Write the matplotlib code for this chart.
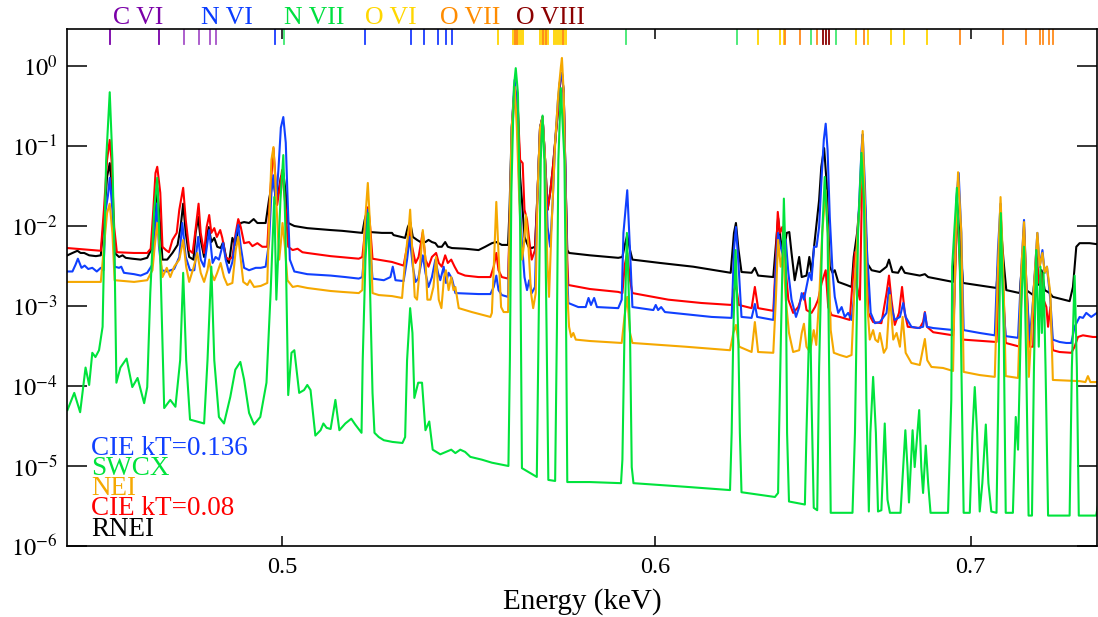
import numpy as np
import matplotlib.pyplot as plt
from matplotlib.ticker import FixedLocator, FixedFormatter, NullLocator

plt.rcParams['font.family'] = 'Liberation Serif'
plt.rcParams['mathtext.fontset'] = 'stix'

# model spectra, (energy in keV, flux) pairs
rnei = [
    (0.4501, 4.3e-3), (0.4512, 4.6e-3), (0.4523, 4.9e-3), (0.4530, 4.6e-3), (0.4538, 4.6e-3),
    (0.4549, 4.3e-3), (0.4564, 4.2e-3), (0.4575, 4.3e-3), (0.4582, 1.19e-2), (0.4589, 4.1e-2),
    (0.4595, 6.1e-2), (0.4601, 2.6e-2), (0.4606, 4.6e-3), (0.4616, 4.1e-3), (0.4624, 4.3e-3),
    (0.4631, 4.0e-3), (0.4646, 3.9e-3), (0.4665, 3.8e-3), (0.4680, 4.0e-3), (0.4692, 5.5e-3),
    (0.4698, 1.6e-2), (0.4703, 3.0e-2), (0.4710, 9.7e-3), (0.4715, 3.8e-3), (0.4726, 3.8e-3),
    (0.4738, 4.6e-3), (0.4750, 5.8e-3), (0.4757, 9.7e-3), (0.4763, 1.9e-2), (0.4769, 8.2e-3),
    (0.4777, 4.1e-3), (0.4787, 3.8e-3), (0.4792, 8.2e-3), (0.4798, 1.3e-2), (0.4804, 6.7e-3),
    (0.4812, 4.1e-3), (0.4818, 7.3e-3), (0.4823, 9.7e-3), (0.4829, 6.3e-3), (0.4836, 7.1e-3),
    (0.4843, 5.5e-3), (0.4851, 5.3e-3), (0.4857, 6.3e-3), (0.4865, 3.8e-3), (0.4871, 3.45e-3),
    (0.4879, 7.1e-3), (0.4886, 5.8e-3), (0.4893, 9.4e-3), (0.4899, 1.09e-2), (0.4907, 1.12e-2),
    (0.4919, 1.09e-2), (0.4930, 1.22e-2), (0.4939, 1.09e-2), (0.4959, 1.09e-2), (0.4967, 2.1e-2),
    (0.4973, 3.1e-2), (0.4978, 3.8e-2), (0.4984, 2.1e-2), (0.4990, 2.6e-2), (0.4996, 4.1e-2),
    (0.5002, 4.6e-2), (0.5008, 2.6e-2), (0.5014, 1.09e-2), (0.5029, 1.0e-2), (0.5061, 9.4e-3),
    (0.5119, 8.9e-3), (0.5148, 8.7e-3), (0.5199, 8.2e-3), (0.5205, 1.19e-2), (0.5213, 1.68e-2),
    (0.5219, 8.4e-3), (0.5249, 8.2e-3), (0.5275, 8.2e-3), (0.5279, 7.7e-3), (0.5309, 7.1e-3),
    (0.5316, 9.7e-3), (0.5322, 1.12e-2), (0.5329, 7.3e-3), (0.5340, 6.7e-3), (0.5349, 6.3e-3),
    (0.5362, 6.3e-3), (0.5370, 6.7e-3), (0.5379, 6.3e-3), (0.5388, 6.1e-3), (0.5395, 5.5e-3),
    (0.5405, 5.5e-3), (0.5414, 6.3e-3), (0.5421, 5.5e-3), (0.5432, 5.3e-3), (0.5467, 5.2e-3),
    (0.5503, 5.0e-3), (0.5521, 5.5e-3), (0.5539, 6.1e-3), (0.5551, 6.3e-3), (0.5566, 5.8e-3),
    (0.5583, 5.8e-3), (0.5587, 1.6e-2), (0.5593, 0.17), (0.5601, 0.55), (0.5610, 0.28),
    (0.5616, 4.1e-2), (0.5621, 2.1e-2), (0.5628, 7.3e-3), (0.5639, 5.5e-3), (0.5648, 5.3e-3),
    (0.5657, 5.5e-3), (0.5664, 2.6e-2), (0.5671, 0.17), (0.5678, 0.23), (0.5685, 6.7e-2),
    (0.5692, 1.6e-2), (0.5699, 2.6e-2), (0.5706, 5.0e-2), (0.5713, 0.11), (0.5721, 0.28),
    (0.5727, 0.67), (0.5732, 0.82), (0.5737, 0.46), (0.5743, 2.6e-2), (0.5747, 5.0e-3),
    (0.5752, 4.6e-3), (0.5811, 4.3e-3), (0.5892, 4.0e-3), (0.5904, 4.1e-3), (0.5911, 5.8e-3),
    (0.5918, 7.7e-3), (0.5926, 5.0e-3), (0.5933, 3.8e-3), (0.6014, 3.45e-3), (0.6112, 3.1e-3),
    (0.6225, 2.6e-3), (0.6235, 8.2e-3), (0.6241, 1.09e-2), (0.6249, 5.0e-3), (0.6258, 2.66e-3),
    (0.6289, 2.6e-3), (0.6299, 3.0e-3), (0.6309, 2.4e-3), (0.6356, 2.3e-3), (0.6363, 5.0e-3),
    (0.6371, 1.26e-2), (0.6379, 6.7e-3), (0.6387, 4.6e-3), (0.6398, 8.2e-3), (0.6406, 8.4e-3),
    (0.6413, 4.6e-3), (0.6423, 2.1e-3), (0.6437, 4.1e-3), (0.6445, 2.3e-3), (0.6460, 2.4e-3),
    (0.6469, 4.1e-3), (0.6476, 2.6e-3), (0.6484, 5.5e-3), (0.6500, 2.1e-2), (0.6507, 5.5e-2),
    (0.6516, 9.4e-2), (0.6524, 3.45e-2), (0.6534, 3.1e-3), (0.6543, 2.6e-3), (0.6550, 2.8e-3),
    (0.6561, 2.0e-3), (0.6588, 1.83e-3), (0.6604, 1.73e-3), (0.6611, 4.1e-3), (0.6622, 8.2e-3),
    (0.6631, 2.1e-2), (0.6640, 6.7e-2), (0.6647, 2.1e-2), (0.6654, 3.45e-3), (0.6669, 2.8e-3),
    (0.6696, 2.66e-3), (0.6718, 3.1e-3), (0.6726, 3.8e-3), (0.6737, 2.66e-3), (0.6756, 2.6e-3),
    (0.6767, 3.1e-3), (0.6778, 2.6e-3), (0.6828, 2.4e-3), (0.6845, 2.5e-3), (0.6856, 2.3e-3),
    (0.6940, 2.0e-3), (0.6949, 6.7e-3), (0.6953, 2.1e-2), (0.6963, 6.7e-3), (0.6974, 1.94e-3),
    (0.7089, 1.68e-3), (0.7098, 5.0e-3), (0.7104, 1.03e-2), (0.7113, 3.8e-3), (0.7123, 1.58e-3),
    (0.7170, 1.45e-3), (0.7179, 3.8e-3), (0.7185, 7.7e-3), (0.7193, 1.58e-3), (0.7217, 1.37e-3),
    (0.7228, 3.8e-3), (0.7238, 1.83e-3), (0.7247, 2.8e-3), (0.7258, 1.58e-3), (0.7276, 1.45e-3),
    (0.7287, 1.3e-3), (0.7347, 1.15e-3), (0.7359, 1.73e-3), (0.7371, 5.5e-3), (0.7383, 6.1e-3),
    (0.7419, 6.1e-3), (0.7450, 5.9e-3),
]

cie_008 = [
    (0.4501, 5.3e-3), (0.4575, 4.9e-3), (0.4582, 1.6e-2), (0.4589, 6.7e-2), (0.4595, 0.119),
    (0.4599, 6.7e-2), (0.4605, 9.7e-3), (0.4611, 4.7e-3), (0.4650, 4.6e-3), (0.4680, 4.6e-3),
    (0.4688, 5.2e-3), (0.4694, 1.6e-2), (0.4699, 4.6e-2), (0.4703, 5.5e-2), (0.4710, 2.6e-2),
    (0.4715, 5.5e-3), (0.4723, 5.0e-3), (0.4730, 4.7e-3), (0.4738, 6.7e-3), (0.4748, 8.2e-3),
    (0.4754, 1.6e-2), (0.4763, 3.0e-2), (0.4769, 1.19e-2), (0.4777, 5.0e-3), (0.4785, 4.6e-3),
    (0.4791, 8.2e-3), (0.4799, 1.9e-2), (0.4804, 8.2e-3), (0.4812, 4.6e-3), (0.4818, 9.7e-3),
    (0.4824, 1.37e-2), (0.4829, 8.2e-3), (0.4836, 9.4e-3), (0.4842, 7.3e-3), (0.4850, 8.9e-3),
    (0.4855, 7.1e-3), (0.4863, 4.1e-3), (0.4871, 3.8e-3), (0.4879, 4.1e-3), (0.4887, 8.2e-3),
    (0.4893, 1.22e-2), (0.4899, 9.7e-3), (0.4907, 6.1e-3), (0.4919, 6.3e-3), (0.4927, 5.6e-3),
    (0.4939, 6.1e-3), (0.4951, 5.5e-3), (0.4963, 5.5e-3), (0.4970, 2.6e-2), (0.4978, 9.4e-2),
    (0.4987, 1.83e-2), (0.4999, 5.0e-2), (0.5008, 1.6e-2), (0.5014, 5.5e-3), (0.5025, 5.0e-3),
    (0.5037, 5.2e-3), (0.5049, 4.7e-3), (0.5061, 4.6e-3), (0.5119, 4.2e-3), (0.5190, 3.9e-3),
    (0.5199, 4.1e-3), (0.5207, 9.7e-3), (0.5214, 1.73e-2), (0.5219, 9.7e-3), (0.5225, 3.9e-3),
    (0.5275, 3.55e-3), (0.5305, 3.2e-3), (0.5314, 5.5e-3), (0.5321, 9.7e-3), (0.5327, 5.5e-3),
    (0.5336, 3.45e-3), (0.5344, 4.1e-3), (0.5355, 8.4e-3), (0.5362, 3.8e-3), (0.5370, 3.1e-3),
    (0.5379, 4.1e-3), (0.5390, 4.6e-3), (0.5397, 3.45e-3), (0.5405, 3.1e-3), (0.5414, 4.3e-3),
    (0.5421, 3.45e-3), (0.5430, 3.8e-3), (0.5439, 3.1e-3), (0.5448, 2.6e-3), (0.5467, 2.4e-3),
    (0.5503, 2.3e-3), (0.5535, 2.3e-3), (0.5544, 3.1e-3), (0.5551, 4.6e-3), (0.5557, 2.8e-3),
    (0.5566, 2.3e-3), (0.5583, 2.2e-3), (0.5587, 9.7e-3), (0.5593, 0.11), (0.5601, 0.55),
    (0.5610, 0.28), (0.5616, 6.7e-2), (0.5623, 6.1e-2), (0.5628, 1.6e-2), (0.5635, 1.19e-2),
    (0.5641, 6.7e-3), (0.5648, 3.8e-3), (0.5657, 5.0e-3), (0.5664, 2.6e-2), (0.5671, 0.17),
    (0.5678, 0.23), (0.5685, 6.7e-2), (0.5692, 1.6e-2), (0.5699, 2.6e-2), (0.5706, 5.0e-2),
    (0.5713, 0.11), (0.5721, 0.28), (0.5727, 0.67), (0.5732, 0.82), (0.5737, 0.46),
    (0.5743, 2.6e-2), (0.5747, 3.8e-3), (0.5750, 1.83e-3), (0.5811, 1.63e-3), (0.5892, 1.5e-3),
    (0.5904, 1.45e-3), (0.5911, 3.3e-3), (0.5918, 4.6e-3), (0.5926, 2.1e-3), (0.5933, 1.45e-3),
    (0.6038, 1.2e-3), (0.6137, 1.09e-3), (0.6228, 1.03e-3), (0.6235, 1.58e-3), (0.6241, 1.83e-3),
    (0.6250, 1.03e-3), (0.6289, 9.4e-4), (0.6299, 1.73e-3), (0.6309, 9.4e-4), (0.6356, 8.7e-4),
    (0.6363, 3.1e-3), (0.6370, 1.5e-2), (0.6376, 8.2e-3), (0.6384, 9.7e-3), (0.6392, 3.8e-3),
    (0.6403, 1.2e-3), (0.6418, 8.2e-4), (0.6434, 9.7e-4), (0.6445, 1.3e-3), (0.6452, 1.45e-3),
    (0.6460, 8.9e-4), (0.6476, 8.2e-4), (0.6487, 9.7e-4), (0.6497, 1.2e-3), (0.6508, 1.94e-3),
    (0.6521, 2.8e-3), (0.6529, 9.7e-4), (0.6540, 7.7e-4), (0.6566, 7.3e-4), (0.6598, 6.7e-4),
    (0.6607, 1.94e-3), (0.6615, 4.7e-3), (0.6622, 1.73e-3), (0.6631, 1.2e-3), (0.6640, 8.9e-2),
    (0.6647, 2.1e-2), (0.6658, 8.2e-4), (0.6674, 6.3e-4), (0.6701, 6.1e-4), (0.6718, 1.45e-3),
    (0.6726, 2.4e-3), (0.6734, 1.2e-3), (0.6745, 5.8e-4), (0.6759, 8.2e-4), (0.6769, 1.73e-3),
    (0.6778, 8.2e-4), (0.6788, 5.5e-4), (0.6828, 5.3e-4), (0.6839, 6.3e-4), (0.6845, 8.4e-4),
    (0.6852, 5.5e-4), (0.6873, 4.7e-4), (0.6940, 4.3e-4), (0.6949, 3.8e-3), (0.6953, 2.1e-2),
    (0.6963, 3.1e-3), (0.6974, 3.8e-4), (0.7089, 3.55e-4), (0.7100, 5.0e-3), (0.7104, 1.3e-2),
    (0.7114, 1.2e-3), (0.7121, 3.45e-4), (0.7170, 3.1e-4), (0.7179, 3.1e-3), (0.7185, 9.7e-3),
    (0.7193, 1.94e-3), (0.7205, 3.1e-4), (0.7217, 3.1e-4), (0.7228, 5.0e-3), (0.7238, 1.94e-3),
    (0.7246, 2.6e-3), (0.7254, 1.2e-3), (0.7264, 9.7e-4), (0.7270, 5.5e-4), (0.7278, 9.7e-4),
    (0.7287, 2.8e-4), (0.7311, 2.66e-4), (0.7353, 2.6e-4), (0.7365, 3.1e-4), (0.7377, 4.1e-4),
    (0.7395, 4.3e-4), (0.7431, 4.1e-4), (0.7450, 4.1e-4),
]

cie_0136 = [
    (0.4501, 2.7e-3), (0.4512, 2.7e-3), (0.4519, 3.3e-3), (0.4524, 3.9e-3), (0.4532, 3.0e-3),
    (0.4539, 3.2e-3), (0.4547, 2.9e-3), (0.4556, 3.0e-3), (0.4566, 2.7e-3), (0.4575, 3.0e-3),
    (0.4581, 2.8e-3), (0.4586, 1.6e-2), (0.4591, 2.4e-2), (0.4595, 4.0e-2), (0.4601, 1.6e-2),
    (0.4606, 3.1e-3), (0.4616, 3.0e-3), (0.4621, 3.1e-3), (0.4627, 2.6e-3), (0.4650, 2.5e-3),
    (0.4665, 2.4e-3), (0.4680, 2.6e-3), (0.4692, 3.3e-3), (0.4697, 8.2e-3), (0.4702, 1.9e-2),
    (0.4707, 5.5e-3), (0.4713, 2.8e-3), (0.4726, 2.7e-3), (0.4742, 2.9e-3), (0.4754, 4.1e-3),
    (0.4761, 1.09e-2), (0.4769, 4.1e-3), (0.4779, 2.8e-3), (0.4789, 2.8e-3), (0.4798, 7.3e-3),
    (0.4804, 3.8e-3), (0.4812, 3.1e-3), (0.4824, 8.9e-3), (0.4832, 3.45e-3), (0.4839, 4.1e-3),
    (0.4847, 3.8e-3), (0.4857, 6.1e-3), (0.4863, 3.8e-3), (0.4871, 2.6e-3), (0.4879, 3.55e-3),
    (0.4887, 7.3e-3), (0.4893, 1.03e-2), (0.4899, 5.5e-3), (0.4907, 3.0e-3), (0.4919, 2.8e-3),
    (0.4935, 3.0e-3), (0.4947, 3.0e-3), (0.4959, 3.1e-3), (0.4967, 6.1e-3), (0.4973, 2.6e-2),
    (0.4978, 4.3e-2), (0.4984, 1.9e-2), (0.4990, 5.0e-2), (0.4996, 0.17), (0.5002, 0.23),
    (0.5008, 0.11), (0.5012, 2.6e-2), (0.5018, 3.8e-3), (0.5029, 2.7e-3), (0.5061, 2.5e-3),
    (0.5119, 2.4e-3), (0.5156, 2.3e-3), (0.5190, 2.2e-3), (0.5199, 2.3e-3), (0.5205, 5.5e-3),
    (0.5213, 1.6e-2), (0.5219, 5.5e-3), (0.5225, 2.2e-3), (0.5254, 2.1e-3), (0.5271, 2.3e-3),
    (0.5277, 3.1e-3), (0.5284, 2.1e-3), (0.5305, 2.05e-3), (0.5314, 3.8e-3), (0.5321, 7.3e-3),
    (0.5329, 3.1e-3), (0.5336, 2.0e-3), (0.5343, 2.2e-3), (0.5355, 4.3e-3), (0.5362, 2.6e-3),
    (0.5370, 1.73e-3), (0.5379, 2.3e-3), (0.5388, 3.8e-3), (0.5395, 2.6e-3), (0.5401, 2.1e-3),
    (0.5410, 3.1e-3), (0.5416, 1.94e-3), (0.5423, 2.6e-3), (0.5432, 2.2e-3), (0.5441, 1.45e-3),
    (0.5503, 1.41e-3), (0.5535, 1.41e-3), (0.5544, 1.73e-3), (0.5551, 2.4e-3), (0.5557, 1.58e-3),
    (0.5566, 1.37e-3), (0.5583, 1.3e-3), (0.5587, 9.7e-3), (0.5593, 0.17), (0.5601, 0.67),
    (0.5608, 0.28), (0.5614, 2.6e-2), (0.5621, 6.1e-3), (0.5628, 2.3e-3), (0.5635, 1.58e-3),
    (0.5641, 2.1e-3), (0.5648, 1.45e-3), (0.5657, 1.73e-3), (0.5664, 2.6e-2), (0.5671, 0.17),
    (0.5678, 0.23), (0.5685, 6.7e-2), (0.5692, 9.7e-3), (0.5699, 5.5e-3), (0.5706, 1.9e-2),
    (0.5713, 0.11), (0.5721, 0.38), (0.5727, 0.67), (0.5732, 0.82), (0.5737, 0.46),
    (0.5743, 2.6e-2), (0.5747, 2.3e-3), (0.5750, 1.09e-3), (0.5778, 9.7e-4), (0.5799, 9.7e-4),
    (0.5807, 1.26e-3), (0.5814, 1.03e-3), (0.5823, 1.26e-3), (0.5831, 9.7e-4), (0.5892, 9.4e-4),
    (0.5902, 1.2e-3), (0.5907, 8.2e-3), (0.5918, 2.8e-2), (0.5926, 5.0e-3), (0.5933, 9.7e-4),
    (0.5994, 8.9e-4), (0.6001, 1.03e-3), (0.6008, 8.9e-4), (0.6017, 9.7e-4), (0.6028, 8.4e-4),
    (0.6088, 7.9e-4), (0.6167, 7.3e-4), (0.6228, 7.1e-4), (0.6235, 5.0e-3), (0.6241, 9.7e-3),
    (0.6248, 3.8e-3), (0.6258, 7.3e-4), (0.6289, 7.1e-4), (0.6299, 1.06e-3), (0.6306, 7.3e-4),
    (0.6356, 6.7e-4), (0.6364, 3.1e-3), (0.6371, 8.2e-3), (0.6379, 5.5e-3), (0.6387, 4.1e-3),
    (0.6395, 6.7e-3), (0.6403, 2.6e-3), (0.6413, 1.2e-3), (0.6427, 7.3e-4), (0.6437, 9.7e-4),
    (0.6445, 1.45e-3), (0.6452, 1.2e-3), (0.6460, 1.73e-3), (0.6469, 2.6e-3), (0.6476, 2.1e-3),
    (0.6484, 5.5e-3), (0.6492, 5.5e-3), (0.6500, 9.7e-3), (0.6507, 3.45e-2), (0.6515, 0.12),
    (0.6521, 0.19), (0.6527, 8.9e-2), (0.6534, 1.3e-2), (0.6543, 2.6e-3), (0.6550, 1.3e-3),
    (0.6561, 8.2e-4), (0.6572, 9.7e-4), (0.6582, 7.3e-4), (0.6593, 8.2e-4), (0.6604, 6.7e-4),
    (0.6611, 1.2e-3), (0.6620, 4.1e-3), (0.6629, 2.1e-2), (0.6636, 8.9e-2), (0.6640, 0.14),
    (0.6647, 3.45e-2), (0.6654, 5.0e-3), (0.6666, 8.2e-4), (0.6680, 6.1e-4), (0.6696, 6.3e-4),
    (0.6718, 8.2e-4), (0.6726, 1.68e-3), (0.6734, 9.7e-4), (0.6745, 6.7e-4), (0.6762, 7.3e-4),
    (0.6773, 1.09e-3), (0.6781, 7.3e-4), (0.6800, 5.5e-4), (0.6822, 5.3e-4), (0.6839, 5.5e-4),
    (0.6845, 8.2e-4), (0.6852, 5.5e-4), (0.6873, 5.3e-4), (0.6942, 5.0e-4), (0.6951, 2.1e-2),
    (0.6959, 4.6e-2), (0.6968, 8.2e-3), (0.6976, 5.0e-4), (0.7031, 4.6e-4), (0.7083, 4.3e-4),
    (0.7094, 5.0e-3), (0.7103, 1.9e-2), (0.7112, 1.2e-3), (0.7121, 4.2e-4), (0.7164, 4.0e-4),
    (0.7176, 3.1e-3), (0.7185, 1.19e-2), (0.7193, 1.94e-3), (0.7205, 3.8e-4), (0.7217, 1.2e-3),
    (0.7232, 8.2e-3), (0.7240, 3.1e-3), (0.7250, 5.0e-3), (0.7258, 2.6e-3), (0.7266, 3.1e-3),
    (0.7278, 1.2e-3), (0.7287, 3.8e-4), (0.7311, 3.55e-4), (0.7335, 3.45e-4), (0.7353, 3.45e-4),
    (0.7365, 5.5e-4), (0.7383, 7.3e-4), (0.7395, 7.1e-4), (0.7407, 8.2e-4), (0.7425, 7.3e-4),
    (0.7450, 8.4e-4),
]

nei = [
    (0.4501, 2.0e-3), (0.4575, 2.0e-3), (0.4582, 5.5e-3), (0.4589, 1.45e-2), (0.4595, 1.9e-2),
    (0.4601, 8.2e-3), (0.4606, 2.1e-3), (0.4650, 2.0e-3), (0.4680, 2.1e-3), (0.4692, 2.8e-3),
    (0.4697, 5.5e-3), (0.4703, 1.09e-2), (0.4710, 4.6e-3), (0.4715, 2.3e-3), (0.4725, 3.0e-3),
    (0.4733, 2.3e-3), (0.4742, 3.1e-3), (0.4754, 3.8e-3), (0.4763, 6.7e-3), (0.4770, 3.1e-3),
    (0.4777, 2.0e-3), (0.4787, 3.0e-3), (0.4796, 4.6e-3), (0.4804, 2.6e-3), (0.4812, 2.0e-3),
    (0.4820, 2.8e-3), (0.4824, 3.8e-3), (0.4829, 2.6e-3), (0.4836, 2.1e-3), (0.4843, 2.6e-3),
    (0.4851, 3.45e-3), (0.4859, 2.3e-3), (0.4867, 1.83e-3), (0.4879, 1.94e-3), (0.4887, 5.0e-3),
    (0.4893, 7.3e-3), (0.4899, 3.8e-3), (0.4905, 2.0e-3), (0.4915, 1.83e-3), (0.4921, 2.1e-3),
    (0.4931, 1.73e-3), (0.4947, 1.78e-3), (0.4963, 1.94e-3), (0.4967, 9.7e-3), (0.4973, 6.7e-2),
    (0.4978, 9.7e-2), (0.4982, 4.1e-2), (0.4986, 1.6e-2), (0.4992, 3.8e-3), (0.4996, 6.1e-3),
    (0.5000, 1.09e-2), (0.5006, 5.5e-3), (0.5012, 2.1e-3), (0.5025, 1.73e-3), (0.5037, 1.78e-3),
    (0.5061, 1.68e-3), (0.5119, 1.54e-3), (0.5148, 1.5e-3), (0.5190, 1.45e-3), (0.5199, 1.58e-3),
    (0.5205, 9.7e-3), (0.5213, 3.45e-2), (0.5219, 9.7e-3), (0.5225, 1.45e-3), (0.5241, 1.37e-3),
    (0.5275, 1.33e-3), (0.5301, 1.26e-3), (0.5309, 3.8e-3), (0.5318, 8.9e-3), (0.5322, 1.6e-2),
    (0.5329, 3.8e-3), (0.5334, 1.3e-3), (0.5340, 1.2e-3), (0.5349, 3.8e-3), (0.5355, 8.9e-3),
    (0.5362, 3.8e-3), (0.5367, 1.2e-3), (0.5375, 1.2e-3), (0.5383, 1.73e-3), (0.5390, 4.1e-3),
    (0.5397, 1.2e-3), (0.5404, 9.4e-4), (0.5411, 2.3e-3), (0.5416, 2.8e-3), (0.5423, 1.58e-3),
    (0.5430, 2.3e-3), (0.5436, 1.58e-3), (0.5441, 1.73e-3), (0.5450, 9.4e-4), (0.5485, 8.4e-4),
    (0.5535, 7.3e-4), (0.5539, 8.2e-4), (0.5545, 3.8e-3), (0.5551, 2.0e-2), (0.5557, 4.6e-3),
    (0.5564, 9.7e-4), (0.5571, 8.4e-4), (0.5583, 8.4e-4), (0.5587, 9.7e-3), (0.5593, 0.17),
    (0.5601, 0.55), (0.5607, 0.17), (0.5613, 2.6e-2), (0.5621, 3.8e-3), (0.5626, 5.5e-3),
    (0.5632, 1.37e-2), (0.5639, 5.5e-3), (0.5646, 1.45e-3), (0.5652, 9.4e-4), (0.5659, 1.45e-3),
    (0.5664, 2.6e-2), (0.5671, 0.17), (0.5678, 0.23), (0.5685, 6.7e-2), (0.5691, 3.8e-3),
    (0.5696, 1.3e-3), (0.5703, 9.7e-3), (0.5713, 0.11), (0.5722, 0.46), (0.5729, 0.97),
    (0.5732, 1.26), (0.5737, 0.46), (0.5743, 1.6e-2), (0.5747, 1.45e-3), (0.5752, 5.5e-4),
    (0.5758, 4.1e-4), (0.5764, 4.6e-4), (0.5771, 3.8e-4), (0.5811, 3.65e-4), (0.5902, 3.45e-4),
    (0.5910, 7.3e-4), (0.5918, 1.3e-3), (0.5926, 4.6e-4), (0.5933, 3.45e-4), (0.6088, 3.1e-4),
    (0.6223, 2.8e-4), (0.6233, 4.6e-4), (0.6241, 5.8e-4), (0.6251, 3.1e-4), (0.6289, 2.66e-4),
    (0.6299, 6.3e-4), (0.6309, 2.66e-4), (0.6356, 2.6e-4), (0.6364, 1.2e-3), (0.6371, 6.7e-3),
    (0.6379, 3.1e-3), (0.6387, 5.0e-3), (0.6395, 1.2e-3), (0.6405, 4.6e-4), (0.6418, 2.66e-4),
    (0.6437, 2.8e-4), (0.6445, 4.6e-4), (0.6452, 6.0e-4), (0.6460, 3.1e-4), (0.6471, 2.66e-4),
    (0.6483, 5.0e-4), (0.6491, 3.26e-4), (0.6500, 1.2e-3), (0.6510, 8.2e-3), (0.6521, 2.8e-2),
    (0.6529, 6.7e-3), (0.6537, 5.0e-4), (0.6547, 2.6e-4), (0.6566, 2.44e-4), (0.6588, 2.3e-4),
    (0.6604, 2.44e-4), (0.6615, 2.3e-3), (0.6624, 8.9e-3), (0.6631, 2.1e-2), (0.6640, 0.154),
    (0.6647, 2.1e-2), (0.6654, 1.2e-3), (0.6663, 3.8e-4), (0.6674, 5.0e-4), (0.6681, 3.8e-4),
    (0.6690, 3.55e-4), (0.6696, 4.6e-4), (0.6709, 2.6e-4), (0.6718, 2.99e-4), (0.6729, 1.37e-3),
    (0.6740, 3.8e-4), (0.6751, 4.6e-4), (0.6762, 3.1e-4), (0.6771, 7.3e-4), (0.6781, 2.6e-4),
    (0.6800, 1.94e-4), (0.6828, 1.83e-4), (0.6839, 2.99e-4), (0.6845, 3.87e-4), (0.6853, 2.1e-4),
    (0.6867, 1.73e-4), (0.6906, 1.68e-4), (0.6940, 1.54e-4), (0.6949, 8.2e-3), (0.6957, 4.7e-2),
    (0.6968, 8.2e-3), (0.6976, 1.5e-4), (0.7031, 1.37e-4), (0.7083, 1.3e-4), (0.7094, 3.1e-3),
    (0.7103, 2.3e-2), (0.7112, 3.1e-3), (0.7121, 1.33e-4), (0.7164, 1.26e-4), (0.7176, 3.1e-3),
    (0.7185, 1.12e-2), (0.7193, 1.94e-3), (0.7202, 1.3e-4), (0.7217, 1.2e-3), (0.7232, 8.2e-3),
    (0.7240, 3.1e-3), (0.7250, 4.6e-3), (0.7258, 2.6e-3), (0.7266, 3.1e-3), (0.7278, 1.45e-3),
    (0.7287, 1.19e-4), (0.7383, 1.15e-4), (0.7404, 1.12e-4), (0.7413, 1.33e-4), (0.7422, 1.12e-4),
    (0.7450, 1.12e-4),
]

swcx = [
    (0.4501, 5.0e-5), (0.4516, 8.2e-5), (0.4529, 4.7e-5), (0.4541, 1.7e-4), (0.4549, 1.03e-4),
    (0.4556, 2.6e-4), (0.4563, 2.3e-4), (0.4571, 2.8e-4), (0.4579, 5.5e-4), (0.4582, 3.8e-3),
    (0.4587, 6.7e-2), (0.4595, 0.47), (0.4601, 6.7e-2), (0.4606, 3.8e-3), (0.4610, 1.1e-4),
    (0.4619, 1.7e-4), (0.4633, 2.2e-4), (0.4646, 9.7e-5), (0.4658, 1.26e-4), (0.4673, 6.1e-5),
    (0.4680, 9.7e-5), (0.4687, 1.45e-3), (0.4696, 1.6e-2), (0.4703, 4.0e-2), (0.4710, 3.8e-3),
    (0.4719, 5.3e-5), (0.4733, 6.7e-5), (0.4745, 5.5e-5), (0.4756, 2.1e-4), (0.4763, 2.6e-3),
    (0.4770, 2.1e-4), (0.4779, 3.8e-5), (0.4812, 3.4e-5), (0.4820, 2.1e-4), (0.4829, 3.1e-3),
    (0.4836, 2.1e-4), (0.4847, 4.1e-5), (0.4859, 3.4e-5), (0.4874, 7.3e-5), (0.4886, 1.6e-4),
    (0.4898, 2.0e-4), (0.4907, 1.2e-4), (0.4919, 4.6e-5), (0.4931, 3.3e-5), (0.4946, 4.1e-5),
    (0.4961, 1.1e-4), (0.4971, 1.45e-3), (0.4980, 2.3e-2), (0.4985, 1.2e-3), (0.4995, 2.1e-2),
    (0.5002, 7.7e-2), (0.5007, 9.7e-3), (0.5014, 7.7e-5), (0.5022, 2.6e-4), (0.5029, 2.8e-4),
    (0.5041, 8.2e-5), (0.5053, 8.9e-5), (0.5061, 1.03e-4), (0.5069, 8.9e-5), (0.5081, 2.4e-5),
    (0.5094, 2.8e-5), (0.5101, 3.4e-5), (0.5109, 3.0e-5), (0.5119, 2.9e-5), (0.5131, 6.7e-5),
    (0.5141, 2.8e-5), (0.5156, 3.4e-5), (0.5171, 3.9e-5), (0.5181, 3.3e-5), (0.5197, 2.6e-5),
    (0.5200, 2.1e-4), (0.5207, 3.8e-3), (0.5214, 1.45e-2), (0.5219, 1.45e-3), (0.5225, 8.2e-5),
    (0.5230, 2.6e-5), (0.5241, 2.3e-5), (0.5254, 2.1e-5), (0.5276, 2.0e-5), (0.5302, 1.94e-5),
    (0.5309, 2.3e-5), (0.5314, 2.1e-4), (0.5322, 9.4e-4), (0.5328, 4.6e-4), (0.5333, 7.1e-5),
    (0.5343, 1.1e-4), (0.5353, 1.1e-4), (0.5362, 2.8e-5), (0.5372, 3.6e-5), (0.5381, 1.6e-5),
    (0.5401, 1.4e-5), (0.5430, 1.6e-5), (0.5441, 1.45e-5), (0.5454, 1.6e-5), (0.5467, 1.5e-5),
    (0.5481, 1.3e-5), (0.5512, 1.2e-5), (0.5539, 1.1e-5), (0.5584, 1.0e-5), (0.5588, 2.1e-4),
    (0.5592, 2.6e-2), (0.5599, 0.55), (0.5604, 0.94), (0.5610, 0.46), (0.5616, 9.7e-3),
    (0.5621, 9.4e-6), (0.5639, 8.4e-6), (0.5662, 7.3e-6), (0.5667, 5.5e-4), (0.5673, 6.7e-2),
    (0.5678, 0.24), (0.5683, 6.7e-2), (0.5689, 5.5e-4), (0.5694, 6.7e-6), (0.5713, 6.5e-6),
    (0.5718, 5.5e-4), (0.5722, 6.7e-2), (0.5729, 0.53), (0.5739, 6.7e-2), (0.5743, 1.45e-3),
    (0.5747, 6.3e-6), (0.5811, 6.3e-6), (0.5900, 6.1e-6), (0.5904, 1.2e-5), (0.5910, 4.6e-4),
    (0.5917, 8.2e-3), (0.5926, 4.6e-4), (0.5931, 9.7e-6), (0.5936, 6.1e-6), (0.6088, 5.5e-6),
    (0.6223, 5.0e-6), (0.6228, 2.6e-5), (0.6233, 4.6e-4), (0.6240, 5.0e-3), (0.6248, 4.6e-4),
    (0.6253, 2.6e-5), (0.6258, 4.7e-6), (0.6361, 4.1e-6), (0.6371, 4.6e-6), (0.6374, 2.6e-5),
    (0.6380, 4.6e-4), (0.6389, 2.2e-2), (0.6395, 3.1e-3), (0.6399, 2.6e-5), (0.6405, 3.6e-6),
    (0.6455, 3.3e-6), (0.6460, 2.6e-5), (0.6471, 1.26e-3), (0.6476, 6.7e-5), (0.6483, 3.0e-6),
    (0.6494, 2.8e-6), (0.6500, 1.7e-4), (0.6510, 8.2e-3), (0.6518, 4.1e-2), (0.6527, 8.2e-3),
    (0.6532, 1.7e-4), (0.6537, 2.6e-6), (0.6607, 2.6e-6), (0.6615, 2.6e-5), (0.6625, 8.2e-3),
    (0.6636, 8.2e-2), (0.6644, 2.1e-2), (0.6652, 6.7e-5), (0.6660, 2.7e-6), (0.6665, 2.6e-5),
    (0.6674, 1.3e-4), (0.6683, 2.6e-5), (0.6690, 2.7e-6), (0.6701, 2.8e-6), (0.6712, 3.4e-5),
    (0.6721, 3.8e-6), (0.6729, 2.6e-6), (0.6764, 2.6e-6), (0.6773, 9.7e-6), (0.6780, 2.8e-5),
    (0.6787, 9.7e-6), (0.6792, 3.5e-6), (0.6798, 9.7e-6), (0.6804, 2.8e-5), (0.6811, 9.7e-6),
    (0.6826, 5.0e-5), (0.6833, 9.7e-6), (0.6839, 4.6e-6), (0.6848, 1.8e-5), (0.6856, 6.1e-6),
    (0.6864, 2.6e-6), (0.6923, 2.6e-6), (0.6934, 6.7e-5), (0.6937, 3.1e-3), (0.6953, 3.0e-2),
    (0.6963, 3.1e-3), (0.6972, 2.6e-5), (0.6976, 2.6e-6), (0.6997, 2.6e-6), (0.7006, 2.6e-5),
    (0.7014, 9.7e-5), (0.7022, 2.6e-5), (0.7031, 2.7e-6), (0.7040, 6.1e-6), (0.7052, 3.3e-5),
    (0.7061, 6.1e-6), (0.7071, 2.7e-6), (0.7089, 2.6e-6), (0.7095, 6.7e-5), (0.7104, 1.45e-2),
    (0.7114, 4.6e-4), (0.7121, 2.6e-6), (0.7146, 2.6e-6), (0.7156, 4.1e-5), (0.7164, 1.6e-5),
    (0.7176, 1.2e-3), (0.7185, 5.5e-3), (0.7193, 1.7e-4), (0.7201, 2.4e-6), (0.7213, 2.4e-6),
    (0.7220, 1.7e-4), (0.7228, 5.0e-3), (0.7237, 3.1e-4), (0.7243, 3.1e-3), (0.7248, 4.6e-4),
    (0.7254, 2.6e-3), (0.7261, 1.7e-4), (0.7270, 2.4e-6), (0.7347, 2.4e-6), (0.7355, 1.7e-4),
    (0.7365, 2.4e-3), (0.7373, 1.7e-4), (0.7380, 2.4e-6), (0.7443, 2.4e-6), (0.7450, 3.3e-6),
]

# drawing order: first entry at the back
models = [
    ('RNEI', rnei, 'black'),
    ('CIE kT=0.08', cie_008, '#ff0000'),
    ('CIE kT=0.136', cie_0136, '#1040ff'),
    ('NEI', nei, '#f5a800'),
    ('SWCX', swcx, '#00e33c'),
]
legend_order = ['CIE kT=0.136', 'SWCX', 'NEI', 'CIE kT=0.08', 'RNEI']

# line energies flagged along the top axis
ion_names = ['C VI', 'N VI', 'N VII', 'O VI', 'O VII', 'O VIII']
ion_label_energy = [0.4660, 0.4865, 0.5079, 0.5271, 0.5481, 0.5700]
ion_colors = ['#7a00a8', '#0a3cff', '#00e040', '#ffd700', '#ff8c00', '#8b0000']

cvi_strong = [0.4596, 0.4706]
cvi_weak = [0.4765, 0.4801, 0.4825, 0.4839]
nvi_lines = [0.4981, 0.5207, 0.5325, 0.5359, 0.5395, 0.5417, 0.5433]
nvii_lines = [0.5004, 0.5914, 0.6244, 0.6474, 0.6553]
ovi_lines = [0.5556, 0.5597, 0.5602, 0.5608, 0.5613, 0.5619, 0.5624, 0.5671, 0.5676, 0.5682,
             0.5687, 0.5693, 0.5710, 0.5716, 0.5721, 0.5727, 0.5732, 0.5738, 0.5743, 0.6310,
             0.6378, 0.6390, 0.6618, 0.6657, 0.6731, 0.6774, 0.6851]
ovii_lines = [0.5602, 0.5608, 0.5680, 0.5688, 0.5734, 0.6392, 0.6440, 0.6494, 0.6644, 0.6964,
              0.7112, 0.7191, 0.7240, 0.7251, 0.7272, 0.7286]
oviii_lines = [0.6512, 0.6521, 0.6531]

marker_sets = [
    (cvi_strong, '#7a00a8'), (cvi_weak, '#a652c8'), (nvi_lines, '#1a3cff'),
    (nvii_lines, '#40e870'), (ovi_lines, '#ffd400'), (ovii_lines, '#ff8a1a'),
    (oviii_lines, '#8b0000'),
]

y_ticks = [1e-6, 1e-5, 1e-4, 1e-3, 1e-2, 1e-1, 1e0]
y_labels = ['$10^{-6}$', '$10^{-5}$', '$10^{-4}$', '$10^{-3}$', '$10^{-2}$', '$10^{-1}$', '$10^{0}$']

fig = plt.figure(figsize=(10.98, 6.17), dpi=100)
ax = fig.add_axes([67 / 1098, 71 / 617, 1030 / 1098, 517 / 617])

colors = {}
for name, data, color in models:
    arr = np.array(data)
    ax.plot(arr[:, 0], arr[:, 1], color=color, lw=1.5, solid_joinstyle='round')
    colors[name] = color

ax.set_xscale('log')
ax.set_yscale('log')
ax.set_xlim(0.45, 0.7446)
ax.set_ylim(1e-6, 2.9)

for lines, color in marker_sets:
    for e in lines:
        ax.axvline(e, ymin=0.971, ymax=1.0, color=color, lw=1.3)

top = ax.get_xaxis_transform()
for name, e, color in zip(ion_names, ion_label_energy, ion_colors):
    ax.text(e, 1.0106, name, transform=top, ha='center', va='baseline',
            color=color, fontsize=18.5)

legend_y = [0.176, 0.137, 0.098, 0.059, 0.019]
for name, y in zip(legend_order, legend_y):
    ax.text(0.0233, y, name, transform=ax.transAxes, color=colors[name],
            fontsize=19.5, va='baseline', ha='left')

ax.xaxis.set_major_locator(FixedLocator([0.5, 0.6, 0.7]))
ax.xaxis.set_major_formatter(FixedFormatter(['0.5', '0.6', '0.7']))
ax.xaxis.set_minor_locator(NullLocator())
ax.yaxis.set_major_locator(FixedLocator(y_ticks))
ax.yaxis.set_major_formatter(FixedFormatter(y_labels))
ax.yaxis.set_minor_locator(NullLocator())

ax.tick_params(which='major', direction='in', top=True, right=True, labelsize=17.5, width=1.1)
ax.tick_params(axis='y', length=14.5, pad=7)
ax.tick_params(axis='x', length=7, pad=8)
for s in ax.spines.values():
    s.set_linewidth(1.2)

ax.set_xlabel('Energy (keV)', fontsize=21, labelpad=7)

fig.savefig('out.png', dpi=100)
